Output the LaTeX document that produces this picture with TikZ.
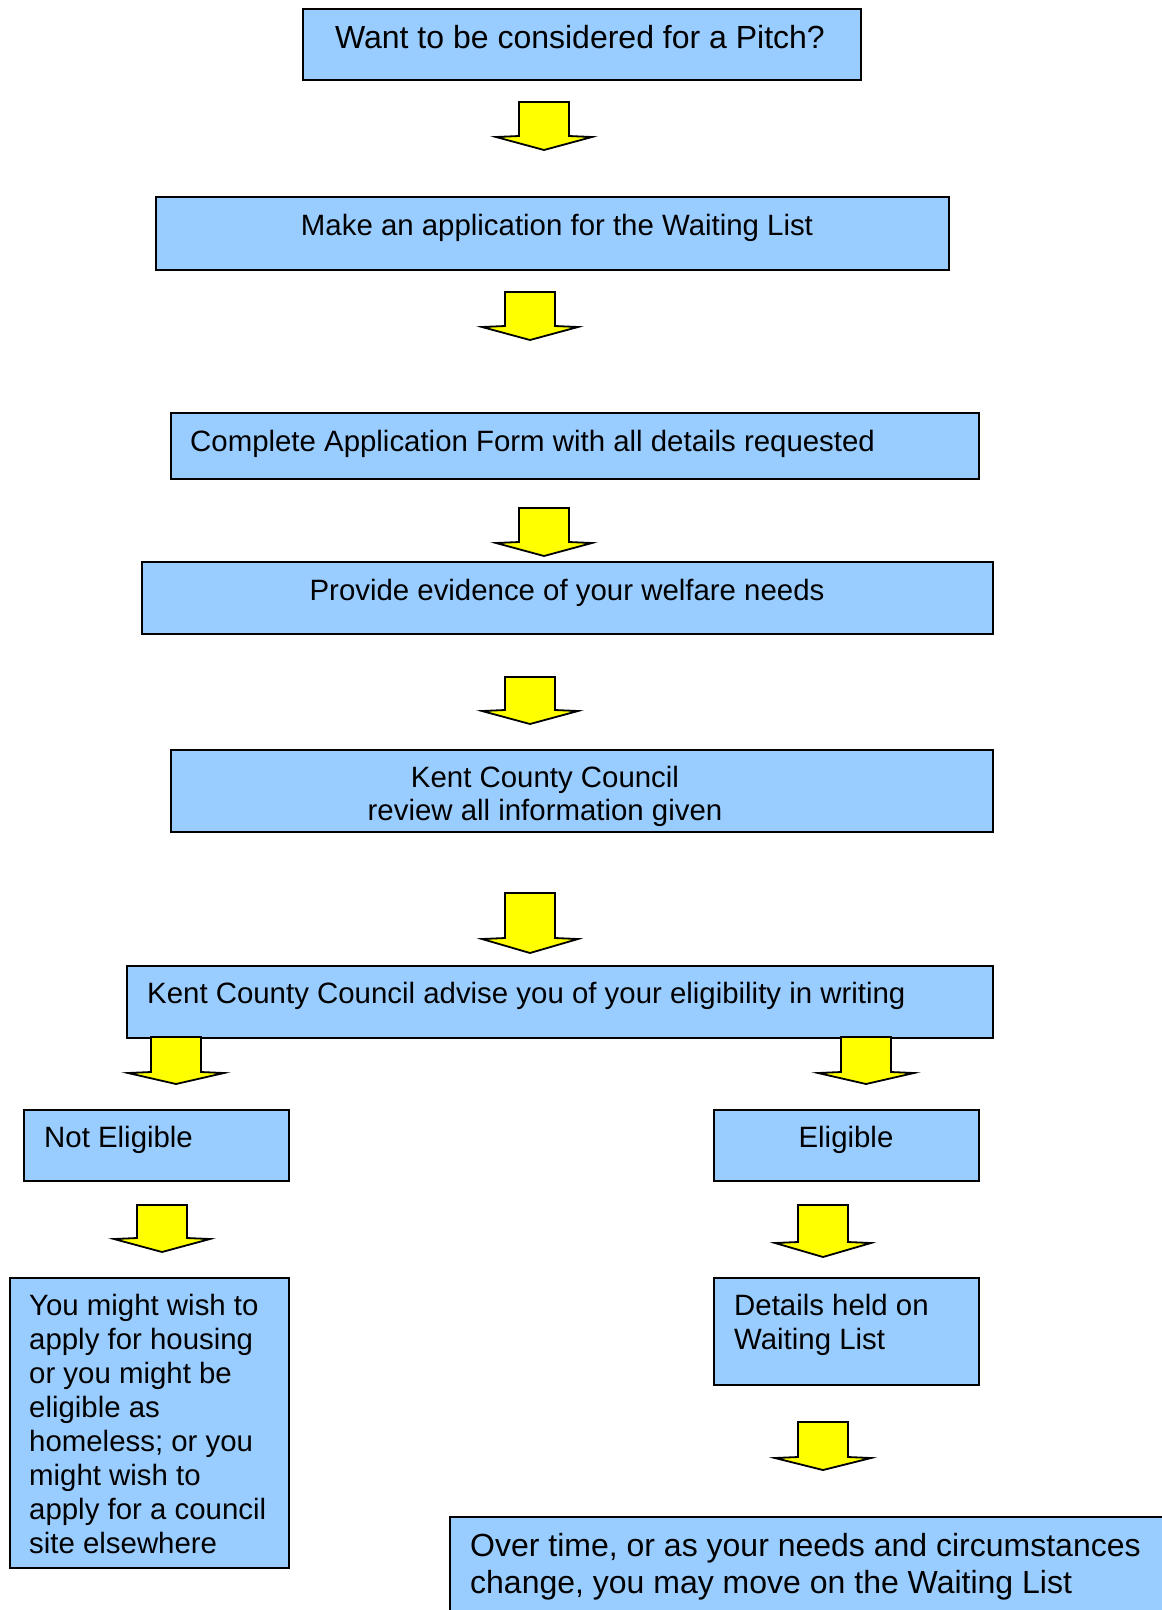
\documentclass[tikz,border=0pt]{standalone}
\usepackage{fontspec}
\setmainfont{Liberation Sans}
\begin{document}
\begin{tikzpicture}[x=1pt,y=-1pt,
  box/.style={draw=black,line width=1.8pt,fill=boxblue,anchor=north west,inner sep=0pt},
  txt/.style={inner sep=0pt,anchor=base,font=\fontsize{29.4}{34}\selectfont},
  txtl/.style={inner sep=0pt,anchor=base west,align=left,font=\fontsize{29.4}{34}\selectfont},
  arr/.style={draw=black,line width=1.8pt,fill=arryellow,line join=miter}]
\definecolor{boxblue}{HTML}{99CCFF}
\definecolor{arryellow}{HTML}{FFFF00}
\useasboundingbox (0,0) rectangle (1162,1610);
% arrow macro: center x, top y, shoulder y, tip y
\newcommand\yarr[4]{%
  \draw[arr] ({#1-25},#2) -- ({#1-25},#3) -- ({#1-48},{#3+1}) -- (#1,#4) -- ({#1+48},{#3+1}) -- ({#1+25},#3) -- ({#1+25},#2) -- cycle;}
% boxes
\node[box,minimum width=558,minimum height=71] (b1) at (302,8) {};
\node[txt,font=\fontsize{32}{38}\selectfont] (t1) at (580,48) {Want to be considered for a Pitch?};
\yarr{544}{102}{136}{150}
\node[box,minimum width=793,minimum height=73] (b2) at (155,196) {};
\node[txt] (t2) at (557,235) {Make an application for the Waiting List};
\yarr{530}{292}{326}{340}
\node[box,minimum width=808,minimum height=66] (b3) at (170,412) {};
\node[txtl] (t3) at (190,451) {Complete Application Form with all details requested};
\yarr{544}{508}{542}{556}
\node[box,minimum width=851,minimum height=72] (b4) at (141,561) {};
\node[txt] (t4) at (567,600) {Provide evidence of your welfare needs};
\yarr{530}{677}{710}{724}
\node[box,minimum width=822,minimum height=82] (b5) at (170,749) {};
\node[txt] (t5a) at (545,787) {Kent County Council};
\node[txt] (t5b) at (545,820) {review all information given};
\yarr{530}{893}{938}{953}
\node[box,minimum width=866,minimum height=72] (b6) at (126,965) {};
\node[txtl] (t6) at (147,1003) {Kent County Council advise you of your eligibility in writing};
\yarr{176}{1037}{1072}{1084}
\yarr{866}{1037}{1072}{1084}
\node[box,minimum width=265,minimum height=71] (b7) at (23,1109) {};
\node[txtl] (t7) at (44,1147) {Not Eligible};
\node[box,minimum width=265,minimum height=71] (b8) at (713,1109) {};
\node[txt] (t8) at (846,1147) {Eligible};
\yarr{162}{1205}{1238}{1252}
\yarr{823}{1205}{1242}{1257}
\node[box,minimum width=279,minimum height=290] (b9) at (9,1277) {};
\node[txtl,anchor=north west] (t9) at (29,1294) {You might wish to\\apply for housing\\or you might be\\eligible as\\homeless; or you\\might wish to\\apply for a council\\site elsewhere};
\node[box,minimum width=265,minimum height=107] (b10) at (713,1277) {};
\node[txtl,anchor=north west] (t10) at (734,1294) {Details held on\\Waiting List};
\yarr{823}{1422}{1457}{1470}
\node[box,minimum width=740,minimum height=120] (b11) at (449,1516) {};
\node[txtl,anchor=north west,font=\fontsize{32}{37}\selectfont] (t11) at (470,1533) {Over time, or as your needs and circumstances\\change, you may move on the Waiting List};
\end{tikzpicture}
\end{document}
